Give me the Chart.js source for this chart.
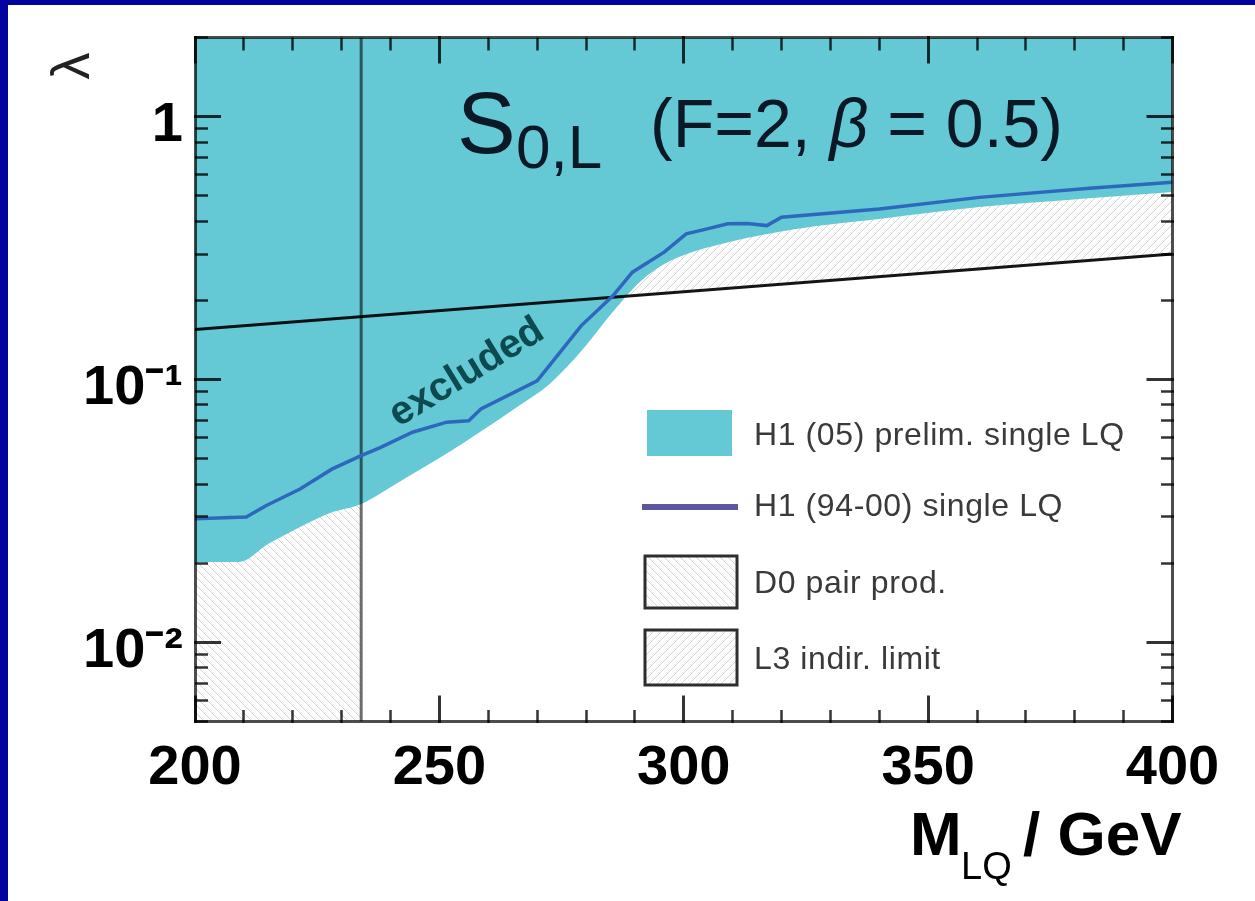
<!DOCTYPE html>
<html>
<head>
<meta charset="utf-8">
<script src="https://cdn.jsdelivr.net/npm/chart.js@4.4.1/dist/chart.umd.min.js"></script>
<style>
    html, body { margin: 0; padding: 0; background: #fff; }
    #frame {
        width: 1255px; height: 901px; box-sizing: border-box; overflow: hidden;
        border-left: 8px solid #0303a0; border-top: 5px solid #0303a0; background: #fff;
    }
    canvas { display: block; }
</style>
</head>
<body>
<div id="frame"><canvas id="lqLimitChart" width="1247" height="896"></canvas></div>
<script>
// x axis: leptoquark mass in GeV
const xMajorTicks = [200, 250, 300, 350, 400];

// y axis: coupling lambda, log scale
const yTickValues = [0.005, 0.006, 0.007, 0.008, 0.009,
    0.01, 0.02, 0.03, 0.04, 0.05, 0.06, 0.07, 0.08, 0.09,
    0.1, 0.2, 0.3, 0.4, 0.5, 0.6, 0.7, 0.8, 0.9, 1, 2];
const yMajorTicks = [0.01, 0.1, 1];
const yMajorLabels = ['10⁻²', '10⁻¹', '1'];

// H1 (05) prelim. single LQ: lower edge of the excluded region
const h1NewMass = [200, 209, 215, 221.5, 227.5, 234, 242, 252, 258, 266.5, 272.5, 279, 285.5, 291, 295, 299, 309.5, 323, 340, 360.5, 381, 400];
const h1NewLambda = [0.0202, 0.0202, 0.0237, 0.0275, 0.031, 0.0336, 0.041, 0.053, 0.0626, 0.080, 0.096, 0.128, 0.181, 0.235, 0.268, 0.2925, 0.334, 0.374, 0.408, 0.453, 0.486, 0.517];

// H1 (94-00) single LQ
const h1OldMass = [200, 210.5, 214.5, 221.5, 228, 234, 238, 244.5, 251.5, 256, 258.5, 270, 272.5, 279, 285.5, 289.5, 296, 300.5, 305, 309, 313, 317, 320, 340, 360.5, 383, 400];
const h1OldLambda = [0.0295, 0.030, 0.0331, 0.0383, 0.0456, 0.0513, 0.0552, 0.063, 0.0688, 0.0697, 0.0772, 0.0989, 0.113, 0.160, 0.208, 0.256, 0.305, 0.358, 0.375, 0.391, 0.392, 0.385, 0.414, 0.445, 0.493, 0.534, 0.563];

// L3 indirect limit
const l3Mass = [200, 400];
const l3Lambda = [0.155, 0.30];

// D0 pair production: masses below the line are excluded
const d0Mass = [234, 234];
const d0Lambda = [0.005, 2];
const d0BandMass = [200, 234];
const d0BandLambda = [2, 2];

const cyan = '#64c8d5';
const pts = (xs, ys) => xs.map((x, i) => ({ x: x, y: ys[i] }));

const canvas = document.getElementById('lqLimitChart');
const ctx = canvas.getContext('2d');

function hatch(back) {
    const c = document.createElement('canvas');
    c.width = 8;
    c.height = 8;
    const g = c.getContext('2d');
    g.strokeStyle = '#d2d2d2';
    g.lineWidth = 1;
    g.beginPath();
    if (back) {
        g.moveTo(-1, -1); g.lineTo(9, 9);
        g.moveTo(-1, 7); g.lineTo(1, 9);
        g.moveTo(7, -1); g.lineTo(9, 1);
    } else {
        g.moveTo(-1, 9); g.lineTo(9, -1);
        g.moveTo(-1, 1); g.lineTo(1, -1);
        g.moveTo(7, 9); g.lineTo(9, 7);
    }
    g.stroke();
    return ctx.createPattern(c, 'repeat');
}
const hatchBack = hatch(true);
const hatchFwd = hatch(false);

const isMajor = (list) => (c) => c.tick && list.includes(c.tick.value);
// ticks point into the plot; minor ones are cut short with a dash pattern
const tickDash = (list, fromBorder) => (c) =>
    isMajor(list)(c) ? [] : (fromBorder ? [13, 200] : [0, 13, 13, 200]);

function frameAxis(position, list, fromBorder) {
    return {
        grid: {
            drawOnChartArea: false,
            tickLength: -26,
            tickColor: '#333',
            tickWidth: (c) => isMajor(list)(c) ? 3 : 2.5,
            tickBorderDash: tickDash(list, fromBorder),
            z: 1
        },
        border: { display: true, color: '#4d4d4d', width: 3, z: 1 },
        position: position
    };
}

// fixed frame: the plot area sits at the same place as in the picture
const fixSize = (w, h) => (s) => {
    if (w !== null) s.width = w;
    if (h !== null) s.height = h;
    s.paddingTop = 0;
    s.paddingBottom = 0;
    s.paddingLeft = 0;
    s.paddingRight = 0;
};

const tickFont = { family: '"Liberation Sans", Arial, sans-serif', size: 56, weight: 'bold' };
const useYTicks = (scale) => {
    scale.ticks = yTickValues.map(v => ({ value: v, major: yMajorTicks.includes(v) }));
};

const overlay = {
    id: 'overlay',
    beforeDatasetDraw(chart, args) {
        if (chart.data.datasets[args.index].multiply) {
            chart.ctx.save();
            chart.ctx.globalCompositeOperation = 'multiply';
        }
    },
    afterDatasetDraw(chart, args) {
        if (chart.data.datasets[args.index].multiply) chart.ctx.restore();
    },
    afterDatasetsDraw(chart) {
        chart.ctx.save();
        chart.ctx.globalCompositeOperation = 'multiply';
    },
    afterDraw(chart) {
        const c = chart.ctx;
        c.restore();
        const sx = chart.scales.x, sy = chart.scales.y;
        const fam = '"Liberation Sans", Arial, sans-serif';
        const ds = chart.data.datasets;

        c.save();
        c.textAlign = 'left';
        c.textBaseline = 'alphabetic';

        // title
        c.fillStyle = '#0b1826';
        c.font = '88px ' + fam;
        c.fillText('S', 449, 148);
        c.font = '62px ' + fam;
        c.fillText('0,L', 508, 163);
        let px = 642;
        c.font = '68px ' + fam;
        c.fillText('(F=2, ', px, 142);
        px += c.measureText('(F=2, ').width;
        c.font = 'italic 68px ' + fam;
        c.fillText('β', px, 142);
        px += c.measureText('β').width;
        c.font = '68px ' + fam;
        c.fillText(' = 0.5)', px, 142);

        // x axis title
        c.fillStyle = '#000';
        c.font = 'bold 62px ' + fam;
        c.fillText('M', 902, 850);
        c.font = '38px ' + fam;
        c.fillText('LQ', 953, 874);
        c.font = 'bold 62px ' + fam;
        c.fillText('/ GeV', 1015, 850);

        // y axis title
        c.save();
        c.translate(66, 61);
        c.rotate(-Math.PI / 2);
        c.textAlign = 'center';
        c.textBaseline = 'middle';
        c.fillStyle = '#222';
        c.font = '54px ' + fam;
        c.fillText('λ', 0, 0);
        c.restore();

        // "excluded"
        c.save();
        c.translate(sx.getPixelForValue(255.6), sy.getPixelForValue(0.106));
        c.rotate(-31.5 * Math.PI / 180);
        c.textAlign = 'center';
        c.textBaseline = 'middle';
        c.fillStyle = '#0d4a50';
        c.font = 'bold 40px ' + fam;
        c.fillText('excluded', 0, 0);
        c.restore();

        // legend
        c.font = '32px ' + fam;
        c.letterSpacing = '0.6px';
        c.textBaseline = 'middle';

        c.fillStyle = cyan;
        c.fillRect(639, 405, 85, 46);
        c.fillStyle = '#3a3a3a';
        c.fillText(ds[3].label, 746, 431);

        c.strokeStyle = '#5a56a0';
        c.lineWidth = 6;
        c.beginPath();
        c.moveTo(634, 502);
        c.lineTo(730, 502);
        c.stroke();
        c.fillText(ds[0].label, 746, 502);

        c.lineWidth = 3;
        c.strokeStyle = '#2e2e2e';
        c.fillStyle = hatchBack;
        c.fillRect(637, 551, 92, 52);
        c.strokeRect(637, 551, 92, 52);
        c.fillStyle = '#3a3a3a';
        c.fillText(ds[2].label, 746, 579);

        c.fillStyle = hatchFwd;
        c.fillRect(637, 625, 92, 55);
        c.strokeRect(637, 625, 92, 55);
        c.fillStyle = '#3a3a3a';
        c.fillText(ds[1].label, 746, 655);
        c.restore();
    }
};

new Chart(canvas, {
    type: 'line',
    data: {
        datasets: [
            {
                label: 'H1 (94-00) single LQ',
                data: pts(h1OldMass, h1OldLambda),
                borderColor: '#2e68bd',
                borderWidth: 3.5,
                fill: false,
                order: 0,
            },
            {
                label: 'L3 indir. limit',
                data: pts(l3Mass, l3Lambda),
                borderColor: '#151515',
                borderWidth: 3,
                backgroundColor: hatchFwd,
                fill: 'end',
                order: 5,
                multiply: true,
            },
            {
                label: 'D0 pair prod.',
                data: pts(d0Mass, d0Lambda),
                borderColor: '#6e6e6e',
                borderWidth: 3,
                fill: false,
                order: 2,
                multiply: true,
            },
            {
                label: 'H1 (05) prelim. single LQ',
                data: pts(h1NewMass, h1NewLambda),
                borderWidth: 0,
                backgroundColor: cyan,
                fill: 'end',
                cubicInterpolationMode: 'monotone',
                order: 4,
            },
            {
                label: 'D0 band',
                data: pts(d0BandMass, d0BandLambda),
                borderWidth: 0,
                backgroundColor: hatchBack,
                fill: 'start',
                order: 6,
            },
        ]
    },
    options: {
        responsive: false,
        devicePixelRatio: 1,
        animation: false,
        events: [],
        layout: { padding: 0 },
        elements: { point: { radius: 0 }, line: { tension: 0 } },
        plugins: {
            legend: { display: false },
            tooltip: { enabled: false },
            filler: { drawTime: 'beforeDatasetsDraw' }
        },
        scales: {
            x: {
                ...frameAxis('bottom', xMajorTicks, true),
                type: 'linear',
                min: 200,
                max: 400,
                ticks: {
                    stepSize: 10,
                    autoSkip: false,
                    maxRotation: 0,
                    padding: 39,
                    color: '#000',
                    font: tickFont,
                    z: 1,
                    callback: (v) => xMajorTicks.includes(v) ? String(v) : ''
                },
                afterFit: fixSize(null, 179.5)
            },
            x2: {
                ...frameAxis('top', xMajorTicks, false),
                axis: 'x',
                type: 'linear',
                min: 200,
                max: 400,
                ticks: { display: false, stepSize: 10, autoSkip: false },
                afterFit: fixSize(null, 32.5)
            },
            y: {
                ...frameAxis('left', yMajorTicks, false),
                type: 'logarithmic',
                min: 0.005,
                max: 2,
                afterBuildTicks: useYTicks,
                ticks: {
                    autoSkip: false,
                    padding: 38,
                    labelOffset: 9,
                    color: '#000',
                    font: tickFont,
                    z: 1,
                    callback: (v) => {
                        const i = yMajorTicks.indexOf(v);
                        return i >= 0 ? yMajorLabels[i] : '';
                    }
                },
                afterFit: fixSize(187, null)
            },
            y2: {
                ...frameAxis('right', yMajorTicks, true),
                axis: 'y',
                type: 'logarithmic',
                min: 0.005,
                max: 2,
                afterBuildTicks: useYTicks,
                ticks: { display: false, autoSkip: false },
                afterFit: fixSize(82.5, null)
            }
        }
    },
    plugins: [overlay]
});
</script>
</body>
</html>
